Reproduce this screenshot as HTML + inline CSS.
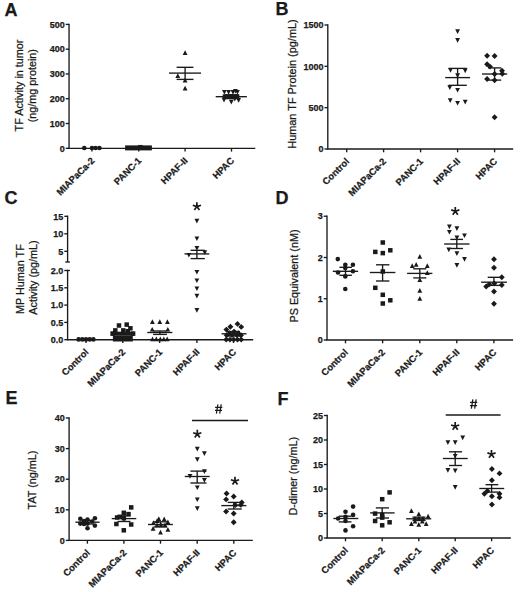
<!DOCTYPE html>
<html><head><meta charset="utf-8"><style>
html,body{margin:0;padding:0;background:#fff;width:520px;height:592px;overflow:hidden}
svg{display:block}
text{font-family:"Liberation Sans",sans-serif;fill:#1a1a1a;stroke:#1a1a1a;stroke-width:0.25px}
line{stroke:#1a1a1a}
</style></head><body>
<svg width="520" height="592" viewBox="0 0 520 592" fill="#1a1a1a">
<text x="4.60" y="15.60" font-size="18" font-weight="bold" text-anchor="start">A</text>
<line x1="69.05" y1="23.65" x2="69.05" y2="148.30" stroke-width="1.35"/>
<line x1="65.75" y1="148.30" x2="69.05" y2="148.30" stroke-width="1.35"/>
<text x="64.75" y="151.50" font-size="9" font-weight="bold" text-anchor="end">0</text>
<line x1="65.75" y1="123.52" x2="69.05" y2="123.52" stroke-width="1.35"/>
<text x="64.75" y="126.72" font-size="9" font-weight="bold" text-anchor="end">100</text>
<line x1="65.75" y1="98.74" x2="69.05" y2="98.74" stroke-width="1.35"/>
<text x="64.75" y="101.94" font-size="9" font-weight="bold" text-anchor="end">200</text>
<line x1="65.75" y1="73.96" x2="69.05" y2="73.96" stroke-width="1.35"/>
<text x="64.75" y="77.16" font-size="9" font-weight="bold" text-anchor="end">300</text>
<line x1="65.75" y1="49.18" x2="69.05" y2="49.18" stroke-width="1.35"/>
<text x="64.75" y="52.38" font-size="9" font-weight="bold" text-anchor="end">400</text>
<line x1="65.75" y1="24.40" x2="69.05" y2="24.40" stroke-width="1.35"/>
<text x="64.75" y="27.60" font-size="9" font-weight="bold" text-anchor="end">500</text>
<line x1="68.30" y1="148.30" x2="255.30" y2="148.30" stroke-width="1.35"/>
<line x1="91.90" y1="148.30" x2="91.90" y2="151.60" stroke-width="1.35"/>
<text x="95.10" y="161.30" font-size="9.4" font-weight="bold" text-anchor="end" transform="rotate(-45 95.10 161.30)">MIAPaCa-2</text>
<line x1="138.70" y1="148.30" x2="138.70" y2="151.60" stroke-width="1.35"/>
<text x="141.90" y="161.30" font-size="9.4" font-weight="bold" text-anchor="end" transform="rotate(-45 141.90 161.30)">PANC-1</text>
<line x1="185.10" y1="148.30" x2="185.10" y2="151.60" stroke-width="1.35"/>
<text x="188.30" y="161.30" font-size="9.4" font-weight="bold" text-anchor="end" transform="rotate(-45 188.30 161.30)">HPAF-II</text>
<line x1="231.50" y1="148.30" x2="231.50" y2="151.60" stroke-width="1.35"/>
<text x="234.70" y="161.30" font-size="9.4" font-weight="bold" text-anchor="end" transform="rotate(-45 234.70 161.30)">HPAC</text>
<text x="22.80" y="85.50" font-size="10.8" font-weight="normal" text-anchor="middle" transform="rotate(-90 22.80 85.50)">TF Activity in tumor</text>
<text x="35.80" y="85.70" font-size="10.8" font-weight="normal" text-anchor="middle" transform="rotate(-90 35.80 85.70)">(ng/mg protein)</text>
<circle cx="84.30" cy="148.00" r="2.30"/>
<circle cx="92.00" cy="148.00" r="2.30"/>
<circle cx="95.60" cy="148.00" r="2.30"/>
<circle cx="99.40" cy="148.00" r="2.30"/>
<rect x="125.1" y="145.4" width="26.8" height="5.0"/>
<rect x="138.15" y="144.95" width="4.50" height="4.50"/>
<path d="M182.70 55.02L187.50 55.02L185.10 50.31Z"/>
<path d="M182.70 90.52L187.50 90.52L185.10 85.82Z"/>
<path d="M175.40 78.02L180.20 78.02L177.80 73.32Z"/>
<path d="M182.70 82.41L187.50 82.41L185.10 77.72Z"/>
<line x1="169.00" y1="73.10" x2="201.00" y2="73.10" stroke-width="1.35"/>
<line x1="176.60" y1="67.30" x2="193.50" y2="67.30" stroke-width="1.35"/>
<line x1="176.60" y1="79.40" x2="193.50" y2="79.40" stroke-width="1.35"/>
<line x1="185.10" y1="67.30" x2="185.10" y2="79.40" stroke-width="1.35"/>
<rect x="222.7" y="94.3" width="16.6" height="4.7"/>
<path d="M222.00 89.89L226.80 89.89L224.40 94.58Z"/>
<path d="M226.20 90.09L231.00 90.09L228.60 94.78Z"/>
<path d="M230.60 90.09L235.40 90.09L233.00 94.78Z"/>
<path d="M235.00 89.89L239.80 89.89L237.40 94.58Z"/>
<path d="M233.00 88.89L237.80 88.89L235.40 93.58Z"/>
<path d="M221.60 97.69L226.40 97.69L224.00 102.38Z"/>
<path d="M228.90 99.69L233.70 99.69L231.30 104.38Z"/>
<path d="M236.20 97.98L241.00 97.98L238.60 102.68Z"/>
<path d="M232.40 96.69L237.20 96.69L234.80 101.38Z"/>
<line x1="215.70" y1="96.70" x2="246.90" y2="96.70" stroke-width="1.35"/>
<line x1="224.50" y1="94.80" x2="238.50" y2="94.80" stroke-width="1.35"/>
<line x1="224.50" y1="98.60" x2="238.50" y2="98.60" stroke-width="1.35"/>
<line x1="231.50" y1="94.80" x2="231.50" y2="98.60" stroke-width="1.35"/>
<text x="275.60" y="14.80" font-size="18" font-weight="bold" text-anchor="start">B</text>
<line x1="327.80" y1="24.26" x2="327.80" y2="149.00" stroke-width="1.35"/>
<line x1="324.50" y1="149.00" x2="327.80" y2="149.00" stroke-width="1.35"/>
<text x="323.50" y="152.20" font-size="9" font-weight="bold" text-anchor="end">0</text>
<line x1="324.50" y1="107.67" x2="327.80" y2="107.67" stroke-width="1.35"/>
<text x="323.50" y="110.87" font-size="9" font-weight="bold" text-anchor="end">500</text>
<line x1="324.50" y1="66.34" x2="327.80" y2="66.34" stroke-width="1.35"/>
<text x="323.50" y="69.54" font-size="9" font-weight="bold" text-anchor="end">1000</text>
<line x1="324.50" y1="25.01" x2="327.80" y2="25.01" stroke-width="1.35"/>
<text x="323.50" y="28.21" font-size="9" font-weight="bold" text-anchor="end">1500</text>
<line x1="327.05" y1="149.00" x2="513.20" y2="149.00" stroke-width="1.35"/>
<line x1="346.70" y1="149.00" x2="346.70" y2="152.30" stroke-width="1.35"/>
<text x="349.90" y="162.00" font-size="9.4" font-weight="bold" text-anchor="end" transform="rotate(-45 349.90 162.00)">Control</text>
<line x1="383.60" y1="149.00" x2="383.60" y2="152.30" stroke-width="1.35"/>
<text x="386.80" y="162.00" font-size="9.4" font-weight="bold" text-anchor="end" transform="rotate(-45 386.80 162.00)">MIAPaCa-2</text>
<line x1="420.60" y1="149.00" x2="420.60" y2="152.30" stroke-width="1.35"/>
<text x="423.80" y="162.00" font-size="9.4" font-weight="bold" text-anchor="end" transform="rotate(-45 423.80 162.00)">PANC-1</text>
<line x1="457.60" y1="149.00" x2="457.60" y2="152.30" stroke-width="1.35"/>
<text x="460.80" y="162.00" font-size="9.4" font-weight="bold" text-anchor="end" transform="rotate(-45 460.80 162.00)">HPAF-II</text>
<line x1="494.60" y1="149.00" x2="494.60" y2="152.30" stroke-width="1.35"/>
<text x="497.80" y="162.00" font-size="9.4" font-weight="bold" text-anchor="end" transform="rotate(-45 497.80 162.00)">HPAC</text>
<text x="295.60" y="84.00" font-size="10.9" font-weight="normal" text-anchor="middle" transform="rotate(-90 295.60 84.00)">Human TF Protein (pg/mL)</text>
<path d="M455.20 29.19L460.00 29.19L457.60 33.88Z"/>
<path d="M455.20 38.09L460.00 38.09L457.60 42.79Z"/>
<path d="M448.10 68.09L452.90 68.09L450.50 72.78Z"/>
<path d="M462.80 68.48L467.60 68.48L465.20 73.18Z"/>
<path d="M455.20 73.29L460.00 73.29L457.60 77.98Z"/>
<path d="M447.40 85.19L452.20 85.19L449.80 89.88Z"/>
<path d="M455.20 87.89L460.00 87.89L457.60 92.58Z"/>
<path d="M447.80 98.19L452.60 98.19L450.20 102.88Z"/>
<path d="M455.20 100.89L460.00 100.89L457.60 105.58Z"/>
<path d="M462.80 99.69L467.60 99.69L465.20 104.38Z"/>
<line x1="445.20" y1="77.60" x2="470.10" y2="77.60" stroke-width="1.35"/>
<line x1="448.50" y1="68.40" x2="466.80" y2="68.40" stroke-width="1.35"/>
<line x1="448.50" y1="85.30" x2="466.80" y2="85.30" stroke-width="1.35"/>
<line x1="457.60" y1="68.40" x2="457.60" y2="85.30" stroke-width="1.35"/>
<path d="M487.10 52.85L490.05 55.80L487.10 58.75L484.15 55.80Z"/>
<path d="M494.60 53.05L497.55 56.00L494.60 58.95L491.65 56.00Z"/>
<path d="M487.10 61.25L490.05 64.20L487.10 67.15L484.15 64.20Z"/>
<path d="M490.00 63.65L492.95 66.60L490.00 69.55L487.05 66.60Z"/>
<path d="M502.00 67.85L504.95 70.80L502.00 73.75L499.05 70.80Z"/>
<path d="M502.30 70.85L505.25 73.80L502.30 76.75L499.35 73.80Z"/>
<path d="M487.10 76.05L490.05 79.00L487.10 81.95L484.15 79.00Z"/>
<path d="M494.60 77.35L497.55 80.30L494.60 83.25L491.65 80.30Z"/>
<path d="M494.60 71.05L497.55 74.00L494.60 76.95L491.65 74.00Z"/>
<path d="M494.60 114.35L497.55 117.30L494.60 120.25L491.65 117.30Z"/>
<line x1="482.00" y1="74.00" x2="507.20" y2="74.00" stroke-width="1.35"/>
<line x1="488.00" y1="67.90" x2="501.20" y2="67.90" stroke-width="1.35"/>
<line x1="488.00" y1="80.10" x2="501.20" y2="80.10" stroke-width="1.35"/>
<line x1="494.60" y1="67.90" x2="494.60" y2="80.10" stroke-width="1.35"/>
<text x="4.60" y="203.90" font-size="18" font-weight="bold" text-anchor="start">C</text>
<line x1="67.60" y1="215.55" x2="67.60" y2="262.00" stroke-width="1.35"/>
<line x1="64.30" y1="216.30" x2="67.60" y2="216.30" stroke-width="1.35"/>
<text x="63.30" y="219.50" font-size="9" font-weight="bold" text-anchor="end">15</text>
<line x1="64.30" y1="233.80" x2="67.60" y2="233.80" stroke-width="1.35"/>
<text x="63.30" y="237.00" font-size="9" font-weight="bold" text-anchor="end">10</text>
<line x1="64.30" y1="251.30" x2="67.60" y2="251.30" stroke-width="1.35"/>
<text x="63.30" y="254.50" font-size="9" font-weight="bold" text-anchor="end">5</text>
<line x1="65.30" y1="262.00" x2="69.90" y2="262.00" stroke-width="1.35"/>
<line x1="67.60" y1="269.75" x2="67.60" y2="339.70" stroke-width="1.35"/>
<line x1="64.30" y1="270.50" x2="67.60" y2="270.50" stroke-width="1.35"/>
<text x="63.30" y="273.70" font-size="9" font-weight="bold" text-anchor="end">2.0</text>
<line x1="64.30" y1="287.80" x2="67.60" y2="287.80" stroke-width="1.35"/>
<text x="63.30" y="291.00" font-size="9" font-weight="bold" text-anchor="end">1.5</text>
<line x1="64.30" y1="305.10" x2="67.60" y2="305.10" stroke-width="1.35"/>
<text x="63.30" y="308.30" font-size="9" font-weight="bold" text-anchor="end">1.0</text>
<line x1="64.30" y1="322.40" x2="67.60" y2="322.40" stroke-width="1.35"/>
<text x="63.30" y="325.60" font-size="9" font-weight="bold" text-anchor="end">0.5</text>
<line x1="64.30" y1="339.70" x2="67.60" y2="339.70" stroke-width="1.35"/>
<text x="63.30" y="342.90" font-size="9" font-weight="bold" text-anchor="end">0.0</text>
<line x1="67.60" y1="270.50" x2="69.90" y2="270.50" stroke-width="1.35"/>
<line x1="66.85" y1="339.70" x2="253.20" y2="339.70" stroke-width="1.35"/>
<line x1="86.00" y1="339.70" x2="86.00" y2="343.00" stroke-width="1.35"/>
<text x="89.20" y="352.70" font-size="9.4" font-weight="bold" text-anchor="end" transform="rotate(-45 89.20 352.70)">Control</text>
<line x1="122.80" y1="339.70" x2="122.80" y2="343.00" stroke-width="1.35"/>
<text x="126.00" y="352.70" font-size="9.4" font-weight="bold" text-anchor="end" transform="rotate(-45 126.00 352.70)">MIAPaCa-2</text>
<line x1="159.70" y1="339.70" x2="159.70" y2="343.00" stroke-width="1.35"/>
<text x="162.90" y="352.70" font-size="9.4" font-weight="bold" text-anchor="end" transform="rotate(-45 162.90 352.70)">PANC-1</text>
<line x1="196.90" y1="339.70" x2="196.90" y2="343.00" stroke-width="1.35"/>
<text x="200.10" y="352.70" font-size="9.4" font-weight="bold" text-anchor="end" transform="rotate(-45 200.10 352.70)">HPAF-II</text>
<line x1="233.50" y1="339.70" x2="233.50" y2="343.00" stroke-width="1.35"/>
<text x="236.70" y="352.70" font-size="9.4" font-weight="bold" text-anchor="end" transform="rotate(-45 236.70 352.70)">HPAC</text>
<text x="23.70" y="279.10" font-size="10.8" font-weight="normal" text-anchor="middle" transform="rotate(-90 23.70 279.10)">MP Human TF</text>
<text x="36.70" y="277.50" font-size="10.8" font-weight="normal" text-anchor="middle" transform="rotate(-90 36.70 277.50)">Activity (pg/mL)</text>
<circle cx="78.60" cy="339.40" r="2.30"/>
<circle cx="82.30" cy="339.40" r="2.30"/>
<circle cx="86.00" cy="339.40" r="2.30"/>
<circle cx="89.70" cy="339.40" r="2.30"/>
<circle cx="93.40" cy="339.40" r="2.30"/>
<rect x="116.75" y="323.25" width="4.50" height="4.50"/>
<rect x="124.45" y="322.35" width="4.50" height="4.50"/>
<rect x="128.15" y="326.05" width="4.50" height="4.50"/>
<rect x="113.05" y="328.15" width="4.50" height="4.50"/>
<rect x="121.05" y="328.15" width="4.50" height="4.50"/>
<rect x="125.55" y="328.95" width="4.50" height="4.50"/>
<rect x="110.35" y="331.35" width="4.50" height="4.50"/>
<rect x="130.85" y="331.35" width="4.50" height="4.50"/>
<rect x="111.2" y="331.7" width="23.3" height="4.1"/>
<rect x="112.9" y="335.9" width="19.9" height="5.6"/>
<path d="M150.00 324.01L154.80 324.01L152.40 319.31Z"/>
<path d="M157.40 324.01L162.20 324.01L159.80 319.31Z"/>
<path d="M165.00 324.01L169.80 324.01L167.40 319.31Z"/>
<path d="M149.80 331.62L154.60 331.62L152.20 326.92Z"/>
<path d="M165.40 331.62L170.20 331.62L167.80 326.92Z"/>
<path d="M150.10 341.31L154.90 341.31L152.50 336.62Z"/>
<path d="M153.90 341.31L158.70 341.31L156.30 336.62Z"/>
<path d="M157.90 341.31L162.70 341.31L160.30 336.62Z"/>
<path d="M161.40 341.31L166.20 341.31L163.80 336.62Z"/>
<path d="M164.80 341.31L169.60 341.31L167.20 336.62Z"/>
<line x1="147.30" y1="332.50" x2="172.40" y2="332.50" stroke-width="1.35"/>
<line x1="153.10" y1="331.00" x2="166.90" y2="331.00" stroke-width="1.35"/>
<line x1="153.10" y1="334.40" x2="166.90" y2="334.40" stroke-width="1.35"/>
<line x1="159.90" y1="331.00" x2="159.90" y2="334.40" stroke-width="1.35"/>
<path d="M194.50 218.69L199.30 218.69L196.90 223.39Z"/>
<path d="M194.50 236.38L199.30 236.38L196.90 241.09Z"/>
<path d="M186.50 252.88L191.30 252.88L188.90 257.58Z"/>
<path d="M202.40 250.19L207.20 250.19L204.80 254.89Z"/>
<path d="M194.50 246.08L199.30 246.08L196.90 250.78Z"/>
<path d="M194.50 269.88L199.30 269.88L196.90 274.58Z"/>
<path d="M194.50 278.38L199.30 278.38L196.90 283.08Z"/>
<path d="M194.50 286.38L199.30 286.38L196.90 291.08Z"/>
<path d="M194.50 293.69L199.30 293.69L196.90 298.38Z"/>
<path d="M194.50 308.08L199.30 308.08L196.90 312.78Z"/>
<line x1="184.50" y1="253.90" x2="209.30" y2="253.90" stroke-width="1.35"/>
<line x1="190.60" y1="250.30" x2="204.80" y2="250.30" stroke-width="1.35"/>
<line x1="190.60" y1="258.60" x2="204.80" y2="258.60" stroke-width="1.35"/>
<line x1="196.90" y1="250.30" x2="196.90" y2="258.60" stroke-width="1.35"/>
<path d="M196.90 206.60L196.90 202.30M196.90 206.60L200.99 205.27M196.90 206.60L199.43 210.08M196.90 206.60L194.37 210.08M196.90 206.60L192.81 205.27" fill="none" stroke="#1a1a1a" stroke-width="1.7"/>
<path d="M226.40 326.65L229.35 329.60L226.40 332.55L223.45 329.60Z"/>
<path d="M230.40 323.85L233.35 326.80L230.40 329.75L227.45 326.80Z"/>
<path d="M237.50 320.95L240.45 323.90L237.50 326.85L234.55 323.90Z"/>
<path d="M241.20 323.95L244.15 326.90L241.20 329.85L238.25 326.90Z"/>
<path d="M234.10 328.65L237.05 331.60L234.10 334.55L231.15 331.60Z"/>
<path d="M229.60 330.25L232.55 333.20L229.60 336.15L226.65 333.20Z"/>
<path d="M238.20 330.25L241.15 333.20L238.20 336.15L235.25 333.20Z"/>
<path d="M226.70 332.25L229.65 335.20L226.70 338.15L223.75 335.20Z"/>
<path d="M232.00 332.05L234.95 335.00L232.00 337.95L229.05 335.00Z"/>
<path d="M236.80 332.05L239.75 335.00L236.80 337.95L233.85 335.00Z"/>
<path d="M241.00 332.35L243.95 335.30L241.00 338.25L238.05 335.30Z"/>
<path d="M226.20 336.65L229.15 339.60L226.20 342.55L223.25 339.60Z"/>
<path d="M230.00 336.65L232.95 339.60L230.00 342.55L227.05 339.60Z"/>
<path d="M233.70 336.65L236.65 339.60L233.70 342.55L230.75 339.60Z"/>
<path d="M237.50 336.65L240.45 339.60L237.50 342.55L234.55 339.60Z"/>
<path d="M241.20 336.65L244.15 339.60L241.20 342.55L238.25 339.60Z"/>
<line x1="221.50" y1="333.80" x2="246.50" y2="333.80" stroke-width="1.35"/>
<line x1="227.00" y1="331.50" x2="240.00" y2="331.50" stroke-width="1.35"/>
<line x1="227.00" y1="336.00" x2="240.00" y2="336.00" stroke-width="1.35"/>
<line x1="233.50" y1="331.50" x2="233.50" y2="336.00" stroke-width="1.35"/>
<text x="275.60" y="203.80" font-size="18" font-weight="bold" text-anchor="start">D</text>
<line x1="327.00" y1="215.50" x2="327.00" y2="340.00" stroke-width="1.35"/>
<line x1="323.70" y1="340.00" x2="327.00" y2="340.00" stroke-width="1.35"/>
<text x="322.70" y="343.20" font-size="9" font-weight="bold" text-anchor="end">0</text>
<line x1="323.70" y1="298.75" x2="327.00" y2="298.75" stroke-width="1.35"/>
<text x="322.70" y="301.95" font-size="9" font-weight="bold" text-anchor="end">1</text>
<line x1="323.70" y1="257.50" x2="327.00" y2="257.50" stroke-width="1.35"/>
<text x="322.70" y="260.70" font-size="9" font-weight="bold" text-anchor="end">2</text>
<line x1="323.70" y1="216.25" x2="327.00" y2="216.25" stroke-width="1.35"/>
<text x="322.70" y="219.45" font-size="9" font-weight="bold" text-anchor="end">3</text>
<line x1="326.25" y1="340.00" x2="513.10" y2="340.00" stroke-width="1.35"/>
<line x1="345.50" y1="340.00" x2="345.50" y2="343.30" stroke-width="1.35"/>
<text x="348.70" y="353.00" font-size="9.4" font-weight="bold" text-anchor="end" transform="rotate(-45 348.70 353.00)">Control</text>
<line x1="382.60" y1="340.00" x2="382.60" y2="343.30" stroke-width="1.35"/>
<text x="385.80" y="353.00" font-size="9.4" font-weight="bold" text-anchor="end" transform="rotate(-45 385.80 353.00)">MIAPaCa-2</text>
<line x1="419.80" y1="340.00" x2="419.80" y2="343.30" stroke-width="1.35"/>
<text x="423.00" y="353.00" font-size="9.4" font-weight="bold" text-anchor="end" transform="rotate(-45 423.00 353.00)">PANC-1</text>
<line x1="456.80" y1="340.00" x2="456.80" y2="343.30" stroke-width="1.35"/>
<text x="460.00" y="353.00" font-size="9.4" font-weight="bold" text-anchor="end" transform="rotate(-45 460.00 353.00)">HPAF-II</text>
<line x1="493.90" y1="340.00" x2="493.90" y2="343.30" stroke-width="1.35"/>
<text x="497.10" y="353.00" font-size="9.4" font-weight="bold" text-anchor="end" transform="rotate(-45 497.10 353.00)">HPAC</text>
<text x="297.70" y="276.00" font-size="10.8" font-weight="normal" text-anchor="middle" transform="rotate(-90 297.70 276.00)">PS Equivalent (nM)</text>
<circle cx="337.80" cy="259.10" r="2.30"/>
<circle cx="345.30" cy="264.80" r="2.30"/>
<circle cx="352.90" cy="264.80" r="2.30"/>
<circle cx="338.00" cy="272.50" r="2.30"/>
<circle cx="352.90" cy="271.30" r="2.30"/>
<circle cx="345.30" cy="276.40" r="2.30"/>
<circle cx="345.30" cy="289.00" r="2.30"/>
<circle cx="345.30" cy="268.00" r="2.30"/>
<line x1="332.80" y1="271.30" x2="358.10" y2="271.30" stroke-width="1.35"/>
<line x1="339.40" y1="267.30" x2="351.90" y2="267.30" stroke-width="1.35"/>
<line x1="339.40" y1="275.30" x2="351.90" y2="275.30" stroke-width="1.35"/>
<line x1="345.50" y1="267.30" x2="345.50" y2="275.30" stroke-width="1.35"/>
<rect x="380.55" y="240.25" width="4.50" height="4.50"/>
<rect x="373.05" y="249.65" width="4.50" height="4.50"/>
<rect x="380.55" y="250.85" width="4.50" height="4.50"/>
<rect x="388.05" y="248.05" width="4.50" height="4.50"/>
<rect x="373.05" y="285.55" width="4.50" height="4.50"/>
<rect x="380.55" y="292.55" width="4.50" height="4.50"/>
<rect x="388.05" y="298.05" width="4.50" height="4.50"/>
<rect x="380.55" y="301.25" width="4.50" height="4.50"/>
<rect x="380.55" y="269.25" width="4.50" height="4.50"/>
<line x1="369.80" y1="272.50" x2="395.40" y2="272.50" stroke-width="1.35"/>
<line x1="376.00" y1="264.80" x2="389.40" y2="264.80" stroke-width="1.35"/>
<line x1="376.00" y1="281.00" x2="389.40" y2="281.00" stroke-width="1.35"/>
<line x1="382.60" y1="264.80" x2="382.60" y2="281.00" stroke-width="1.35"/>
<path d="M417.40 258.72L422.20 258.72L419.80 254.02Z"/>
<path d="M409.80 267.92L414.60 267.92L412.20 263.22Z"/>
<path d="M413.80 266.81L418.60 266.81L416.20 262.12Z"/>
<path d="M424.90 267.92L429.70 267.92L427.30 263.22Z"/>
<path d="M424.90 274.92L429.70 274.92L427.30 270.22Z"/>
<path d="M417.40 282.01L422.20 282.01L419.80 277.31Z"/>
<path d="M417.40 292.72L422.20 292.72L419.80 288.02Z"/>
<path d="M417.40 300.81L422.20 300.81L419.80 296.12Z"/>
<line x1="407.10" y1="273.40" x2="432.40" y2="273.40" stroke-width="1.35"/>
<line x1="413.20" y1="268.80" x2="426.30" y2="268.80" stroke-width="1.35"/>
<line x1="413.20" y1="277.90" x2="426.30" y2="277.90" stroke-width="1.35"/>
<line x1="419.80" y1="268.80" x2="419.80" y2="277.90" stroke-width="1.35"/>
<path d="M447.00 224.48L451.80 224.48L449.40 229.19Z"/>
<path d="M447.00 229.88L451.80 229.88L449.40 234.59Z"/>
<path d="M454.50 226.28L459.30 226.28L456.90 230.99Z"/>
<path d="M462.10 233.38L466.90 233.38L464.50 238.09Z"/>
<path d="M454.50 235.48L459.30 235.48L456.90 240.19Z"/>
<path d="M446.40 247.58L451.20 247.58L448.80 252.28Z"/>
<path d="M454.50 251.19L459.30 251.19L456.90 255.89Z"/>
<path d="M462.10 257.08L466.90 257.08L464.50 261.78Z"/>
<path d="M454.50 262.99L459.30 262.99L456.90 267.69Z"/>
<line x1="444.10" y1="244.00" x2="469.50" y2="244.00" stroke-width="1.35"/>
<line x1="450.30" y1="239.40" x2="463.00" y2="239.40" stroke-width="1.35"/>
<line x1="450.30" y1="248.50" x2="463.00" y2="248.50" stroke-width="1.35"/>
<line x1="456.80" y1="239.40" x2="456.80" y2="248.50" stroke-width="1.35"/>
<path d="M455.30 211.20L455.30 206.90M455.30 211.20L459.39 209.87M455.30 211.20L457.83 214.68M455.30 211.20L452.77 214.68M455.30 211.20L451.21 209.87" fill="none" stroke="#1a1a1a" stroke-width="1.7"/>
<path d="M494.00 256.35L496.95 259.30L494.00 262.25L491.05 259.30Z"/>
<path d="M494.00 264.75L496.95 267.70L494.00 270.65L491.05 267.70Z"/>
<path d="M501.80 274.35L504.75 277.30L501.80 280.25L498.85 277.30Z"/>
<path d="M486.20 283.55L489.15 286.50L486.20 289.45L483.25 286.50Z"/>
<path d="M489.20 281.45L492.15 284.40L489.20 287.35L486.25 284.40Z"/>
<path d="M494.30 280.45L497.25 283.40L494.30 286.35L491.35 283.40Z"/>
<path d="M501.80 282.05L504.75 285.00L501.80 287.95L498.85 285.00Z"/>
<path d="M494.00 288.55L496.95 291.50L494.00 294.45L491.05 291.50Z"/>
<path d="M494.00 300.75L496.95 303.70L494.00 306.65L491.05 303.70Z"/>
<line x1="481.10" y1="282.20" x2="506.90" y2="282.20" stroke-width="1.35"/>
<line x1="487.70" y1="277.30" x2="502.40" y2="277.30" stroke-width="1.35"/>
<line x1="487.70" y1="285.40" x2="502.40" y2="285.40" stroke-width="1.35"/>
<line x1="493.90" y1="277.30" x2="493.90" y2="285.40" stroke-width="1.35"/>
<text x="5.60" y="403.80" font-size="18" font-weight="bold" text-anchor="start">E</text>
<line x1="69.10" y1="417.25" x2="69.10" y2="540.40" stroke-width="1.35"/>
<line x1="65.80" y1="540.40" x2="69.10" y2="540.40" stroke-width="1.35"/>
<text x="64.80" y="543.60" font-size="9" font-weight="bold" text-anchor="end">0</text>
<line x1="65.80" y1="509.80" x2="69.10" y2="509.80" stroke-width="1.35"/>
<text x="64.80" y="513.00" font-size="9" font-weight="bold" text-anchor="end">10</text>
<line x1="65.80" y1="479.20" x2="69.10" y2="479.20" stroke-width="1.35"/>
<text x="64.80" y="482.40" font-size="9" font-weight="bold" text-anchor="end">20</text>
<line x1="65.80" y1="448.60" x2="69.10" y2="448.60" stroke-width="1.35"/>
<text x="64.80" y="451.80" font-size="9" font-weight="bold" text-anchor="end">30</text>
<line x1="65.80" y1="418.00" x2="69.10" y2="418.00" stroke-width="1.35"/>
<text x="64.80" y="421.20" font-size="9" font-weight="bold" text-anchor="end">40</text>
<line x1="68.35" y1="540.40" x2="252.80" y2="540.40" stroke-width="1.35"/>
<line x1="87.40" y1="540.40" x2="87.40" y2="543.70" stroke-width="1.35"/>
<text x="90.60" y="553.40" font-size="9.4" font-weight="bold" text-anchor="end" transform="rotate(-45 90.60 553.40)">Control</text>
<line x1="123.90" y1="540.40" x2="123.90" y2="543.70" stroke-width="1.35"/>
<text x="127.10" y="553.40" font-size="9.4" font-weight="bold" text-anchor="end" transform="rotate(-45 127.10 553.40)">MIAPaCa-2</text>
<line x1="160.50" y1="540.40" x2="160.50" y2="543.70" stroke-width="1.35"/>
<text x="163.70" y="553.40" font-size="9.4" font-weight="bold" text-anchor="end" transform="rotate(-45 163.70 553.40)">PANC-1</text>
<line x1="197.20" y1="540.40" x2="197.20" y2="543.70" stroke-width="1.35"/>
<text x="200.40" y="553.40" font-size="9.4" font-weight="bold" text-anchor="end" transform="rotate(-45 200.40 553.40)">HPAF-II</text>
<line x1="233.80" y1="540.40" x2="233.80" y2="543.70" stroke-width="1.35"/>
<text x="237.00" y="553.40" font-size="9.4" font-weight="bold" text-anchor="end" transform="rotate(-45 237.00 553.40)">HPAC</text>
<text x="36.20" y="480.00" font-size="10.8" font-weight="normal" text-anchor="middle" transform="rotate(-90 36.20 480.00)">TAT (ng/mL)</text>
<circle cx="80.30" cy="518.80" r="2.30"/>
<circle cx="87.50" cy="519.50" r="2.30"/>
<circle cx="94.90" cy="518.20" r="2.30"/>
<circle cx="80.30" cy="523.60" r="2.30"/>
<circle cx="94.90" cy="525.60" r="2.30"/>
<circle cx="87.50" cy="528.30" r="2.30"/>
<circle cx="92.20" cy="521.50" r="2.30"/>
<circle cx="84.00" cy="521.00" r="2.30"/>
<circle cx="87.50" cy="523.60" r="2.30"/>
<circle cx="84.00" cy="524.00" r="2.30"/>
<line x1="75.40" y1="522.20" x2="99.60" y2="522.20" stroke-width="1.35"/>
<line x1="81.50" y1="520.50" x2="93.50" y2="520.50" stroke-width="1.35"/>
<line x1="81.50" y1="524.00" x2="93.50" y2="524.00" stroke-width="1.35"/>
<line x1="87.40" y1="520.50" x2="87.40" y2="524.00" stroke-width="1.35"/>
<rect x="128.95" y="505.15" width="4.50" height="4.50"/>
<rect x="121.55" y="510.55" width="4.50" height="4.50"/>
<rect x="126.25" y="511.85" width="4.50" height="4.50"/>
<rect x="114.85" y="515.25" width="4.50" height="4.50"/>
<rect x="114.15" y="521.75" width="4.50" height="4.50"/>
<rect x="128.95" y="522.25" width="4.50" height="4.50"/>
<rect x="121.55" y="528.05" width="4.50" height="4.50"/>
<rect x="121.55" y="515.95" width="4.50" height="4.50"/>
<rect x="117.55" y="514.55" width="4.50" height="4.50"/>
<line x1="111.70" y1="518.60" x2="136.30" y2="518.60" stroke-width="1.35"/>
<line x1="117.50" y1="515.80" x2="130.50" y2="515.80" stroke-width="1.35"/>
<line x1="117.50" y1="521.50" x2="130.50" y2="521.50" stroke-width="1.35"/>
<line x1="123.90" y1="515.80" x2="123.90" y2="521.50" stroke-width="1.35"/>
<path d="M156.40 520.91L161.20 520.91L158.80 516.21Z"/>
<path d="M161.80 521.22L166.60 521.22L164.20 516.51Z"/>
<path d="M151.00 524.91L155.80 524.91L153.40 520.21Z"/>
<path d="M165.50 524.32L170.30 524.32L167.90 519.62Z"/>
<path d="M154.70 522.91L159.50 522.91L157.10 518.21Z"/>
<path d="M150.70 530.72L155.50 530.72L153.10 526.01Z"/>
<path d="M165.50 531.72L170.30 531.72L167.90 527.01Z"/>
<path d="M158.10 534.41L162.90 534.41L160.50 529.71Z"/>
<path d="M154.60 527.12L159.40 527.12L157.00 522.41Z"/>
<path d="M158.60 527.12L163.40 527.12L161.00 522.41Z"/>
<path d="M162.60 527.12L167.40 527.12L165.00 522.41Z"/>
<line x1="148.00" y1="524.50" x2="172.90" y2="524.50" stroke-width="1.35"/>
<line x1="154.00" y1="521.80" x2="167.00" y2="521.80" stroke-width="1.35"/>
<line x1="154.00" y1="527.00" x2="167.00" y2="527.00" stroke-width="1.35"/>
<line x1="160.50" y1="521.80" x2="160.50" y2="527.00" stroke-width="1.35"/>
<path d="M194.90 446.78L199.70 446.78L197.30 451.48Z"/>
<path d="M202.00 451.19L206.80 451.19L204.40 455.88Z"/>
<path d="M194.90 457.28L199.70 457.28L197.30 461.98Z"/>
<path d="M187.60 474.08L192.40 474.08L190.00 478.78Z"/>
<path d="M202.00 469.28L206.80 469.28L204.40 473.98Z"/>
<path d="M202.00 478.08L206.80 478.08L204.40 482.78Z"/>
<path d="M194.90 485.38L199.70 485.38L197.30 490.08Z"/>
<path d="M194.90 497.38L199.70 497.38L197.30 502.08Z"/>
<path d="M194.90 506.28L199.70 506.28L197.30 510.98Z"/>
<line x1="184.80" y1="476.50" x2="209.70" y2="476.50" stroke-width="1.35"/>
<line x1="190.40" y1="471.10" x2="206.50" y2="471.10" stroke-width="1.35"/>
<line x1="190.40" y1="483.00" x2="206.50" y2="483.00" stroke-width="1.35"/>
<line x1="197.20" y1="471.10" x2="197.20" y2="483.00" stroke-width="1.35"/>
<path d="M197.30 434.10L197.30 429.80M197.30 434.10L201.39 432.77M197.30 434.10L199.83 437.58M197.30 434.10L194.77 437.58M197.30 434.10L193.21 432.77" fill="none" stroke="#1a1a1a" stroke-width="1.7"/>
<path d="M226.60 490.55L229.55 493.50L226.60 496.45L223.65 493.50Z"/>
<path d="M233.70 493.55L236.65 496.50L233.70 499.45L230.75 496.50Z"/>
<path d="M226.10 496.45L229.05 499.40L226.10 502.35L223.15 499.40Z"/>
<path d="M241.80 499.45L244.75 502.40L241.80 505.35L238.85 502.40Z"/>
<path d="M226.10 508.55L229.05 511.50L226.10 514.45L223.15 511.50Z"/>
<path d="M233.70 510.55L236.65 513.50L233.70 516.45L230.75 513.50Z"/>
<path d="M233.70 519.25L236.65 522.20L233.70 525.15L230.75 522.20Z"/>
<path d="M240.80 501.95L243.75 504.90L240.80 507.85L237.85 504.90Z"/>
<path d="M235.30 502.05L238.25 505.00L235.30 507.95L232.35 505.00Z"/>
<line x1="221.30" y1="505.60" x2="246.40" y2="505.60" stroke-width="1.35"/>
<line x1="227.70" y1="502.40" x2="241.80" y2="502.40" stroke-width="1.35"/>
<line x1="227.70" y1="509.00" x2="241.80" y2="509.00" stroke-width="1.35"/>
<line x1="233.80" y1="502.40" x2="233.80" y2="509.00" stroke-width="1.35"/>
<path d="M235.00 481.10L235.00 476.80M235.00 481.10L239.09 479.77M235.00 481.10L237.53 484.58M235.00 481.10L232.47 484.58M235.00 481.10L230.91 479.77" fill="none" stroke="#1a1a1a" stroke-width="1.7"/>
<line x1="192.00" y1="420.60" x2="248.00" y2="420.60" stroke-width="1.5"/>
<path d="M217.90 404.30L216.40 413.60M221.20 404.30L219.70 413.60M215.10 407.30L222.30 407.30M215.00 410.40L222.10 410.40" fill="none" stroke="#1a1a1a" stroke-width="1.25"/>
<text x="277.60" y="405.00" font-size="18" font-weight="bold" text-anchor="start">F</text>
<line x1="327.20" y1="414.75" x2="327.20" y2="538.00" stroke-width="1.35"/>
<line x1="323.90" y1="538.00" x2="327.20" y2="538.00" stroke-width="1.35"/>
<text x="322.90" y="541.20" font-size="9" font-weight="bold" text-anchor="end">0</text>
<line x1="323.90" y1="513.50" x2="327.20" y2="513.50" stroke-width="1.35"/>
<text x="322.90" y="516.70" font-size="9" font-weight="bold" text-anchor="end">5</text>
<line x1="323.90" y1="489.00" x2="327.20" y2="489.00" stroke-width="1.35"/>
<text x="322.90" y="492.20" font-size="9" font-weight="bold" text-anchor="end">10</text>
<line x1="323.90" y1="464.50" x2="327.20" y2="464.50" stroke-width="1.35"/>
<text x="322.90" y="467.70" font-size="9" font-weight="bold" text-anchor="end">15</text>
<line x1="323.90" y1="440.00" x2="327.20" y2="440.00" stroke-width="1.35"/>
<text x="322.90" y="443.20" font-size="9" font-weight="bold" text-anchor="end">20</text>
<line x1="323.90" y1="415.50" x2="327.20" y2="415.50" stroke-width="1.35"/>
<text x="322.90" y="418.70" font-size="9" font-weight="bold" text-anchor="end">25</text>
<line x1="326.45" y1="538.00" x2="510.80" y2="538.00" stroke-width="1.35"/>
<line x1="345.50" y1="538.00" x2="345.50" y2="541.30" stroke-width="1.35"/>
<text x="348.70" y="551.00" font-size="9.4" font-weight="bold" text-anchor="end" transform="rotate(-45 348.70 551.00)">Control</text>
<line x1="382.20" y1="538.00" x2="382.20" y2="541.30" stroke-width="1.35"/>
<text x="385.40" y="551.00" font-size="9.4" font-weight="bold" text-anchor="end" transform="rotate(-45 385.40 551.00)">MIAPaCa-2</text>
<line x1="418.80" y1="538.00" x2="418.80" y2="541.30" stroke-width="1.35"/>
<text x="422.00" y="551.00" font-size="9.4" font-weight="bold" text-anchor="end" transform="rotate(-45 422.00 551.00)">PANC-1</text>
<line x1="455.20" y1="538.00" x2="455.20" y2="541.30" stroke-width="1.35"/>
<text x="458.40" y="551.00" font-size="9.4" font-weight="bold" text-anchor="end" transform="rotate(-45 458.40 551.00)">HPAF-II</text>
<line x1="491.60" y1="538.00" x2="491.60" y2="541.30" stroke-width="1.35"/>
<text x="494.80" y="551.00" font-size="9.4" font-weight="bold" text-anchor="end" transform="rotate(-45 494.80 551.00)">HPAC</text>
<text x="297.40" y="476.30" font-size="10.8" font-weight="normal" text-anchor="middle" transform="rotate(-90 297.40 476.30)">D-dimer (ng/mL)</text>
<circle cx="353.10" cy="506.60" r="2.30"/>
<circle cx="345.50" cy="511.80" r="2.30"/>
<circle cx="353.10" cy="514.90" r="2.30"/>
<circle cx="338.10" cy="518.50" r="2.30"/>
<circle cx="345.50" cy="516.90" r="2.30"/>
<circle cx="345.50" cy="521.00" r="2.30"/>
<circle cx="353.10" cy="526.30" r="2.30"/>
<circle cx="345.50" cy="530.40" r="2.30"/>
<line x1="333.40" y1="518.50" x2="358.30" y2="518.50" stroke-width="1.35"/>
<line x1="338.70" y1="516.20" x2="351.50" y2="516.20" stroke-width="1.35"/>
<line x1="338.70" y1="521.90" x2="351.50" y2="521.90" stroke-width="1.35"/>
<line x1="345.50" y1="516.20" x2="345.50" y2="521.90" stroke-width="1.35"/>
<rect x="387.35" y="490.15" width="4.50" height="4.50"/>
<rect x="379.95" y="496.95" width="4.50" height="4.50"/>
<rect x="372.85" y="511.35" width="4.50" height="4.50"/>
<rect x="379.95" y="512.65" width="4.50" height="4.50"/>
<rect x="372.85" y="518.75" width="4.50" height="4.50"/>
<rect x="379.95" y="515.35" width="4.50" height="4.50"/>
<rect x="387.35" y="520.05" width="4.50" height="4.50"/>
<rect x="379.95" y="523.05" width="4.50" height="4.50"/>
<line x1="370.10" y1="512.90" x2="394.60" y2="512.90" stroke-width="1.35"/>
<line x1="375.80" y1="507.90" x2="389.00" y2="507.90" stroke-width="1.35"/>
<line x1="375.80" y1="518.00" x2="389.00" y2="518.00" stroke-width="1.35"/>
<line x1="382.20" y1="507.90" x2="382.20" y2="518.00" stroke-width="1.35"/>
<path d="M409.00 512.91L413.80 512.91L411.40 508.22Z"/>
<path d="M416.40 516.32L421.20 516.32L418.80 511.62Z"/>
<path d="M425.70 518.41L430.50 518.41L428.10 513.71Z"/>
<path d="M409.00 525.91L413.80 525.91L411.40 521.21Z"/>
<path d="M416.40 526.72L421.20 526.72L418.80 522.01Z"/>
<path d="M423.80 525.91L428.60 525.91L426.20 521.21Z"/>
<path d="M412.60 523.62L417.40 523.62L415.00 518.91Z"/>
<path d="M419.90 523.62L424.70 523.62L422.30 518.91Z"/>
<path d="M412.60 520.62L417.40 520.62L415.00 515.91Z"/>
<path d="M416.60 520.62L421.40 520.62L419.00 515.91Z"/>
<path d="M420.60 520.62L425.40 520.62L423.00 515.91Z"/>
<line x1="406.20" y1="518.80" x2="431.20" y2="518.80" stroke-width="1.35"/>
<line x1="412.50" y1="517.20" x2="425.50" y2="517.20" stroke-width="1.35"/>
<line x1="412.50" y1="520.50" x2="425.50" y2="520.50" stroke-width="1.35"/>
<line x1="418.80" y1="517.20" x2="418.80" y2="520.50" stroke-width="1.35"/>
<path d="M445.50 440.19L450.30 440.19L447.90 444.88Z"/>
<path d="M452.80 440.19L457.60 440.19L455.20 444.88Z"/>
<path d="M460.30 435.58L465.10 435.58L462.70 440.28Z"/>
<path d="M445.50 467.99L450.30 467.99L447.90 472.69Z"/>
<path d="M452.80 468.58L457.60 468.58L455.20 473.28Z"/>
<path d="M452.80 484.99L457.60 484.99L455.20 489.69Z"/>
<path d="M452.80 453.88L457.60 453.88L455.20 458.58Z"/>
<line x1="442.90" y1="458.50" x2="467.70" y2="458.50" stroke-width="1.35"/>
<line x1="449.00" y1="451.80" x2="462.10" y2="451.80" stroke-width="1.35"/>
<line x1="449.00" y1="465.50" x2="462.10" y2="465.50" stroke-width="1.35"/>
<line x1="455.20" y1="451.80" x2="455.20" y2="465.50" stroke-width="1.35"/>
<path d="M455.20 426.30L455.20 422.00M455.20 426.30L459.29 424.97M455.20 426.30L457.73 429.78M455.20 426.30L452.67 429.78M455.20 426.30L451.11 424.97" fill="none" stroke="#1a1a1a" stroke-width="1.7"/>
<path d="M491.90 466.05L494.85 469.00L491.90 471.95L488.95 469.00Z"/>
<path d="M499.50 470.45L502.45 473.40L499.50 476.35L496.55 473.40Z"/>
<path d="M491.90 477.25L494.85 480.20L491.90 483.15L488.95 480.20Z"/>
<path d="M484.40 490.85L487.35 493.80L484.40 496.75L481.45 493.80Z"/>
<path d="M487.40 487.95L490.35 490.90L487.40 493.85L484.45 490.90Z"/>
<path d="M499.50 490.85L502.45 493.80L499.50 496.75L496.55 493.80Z"/>
<path d="M491.90 493.25L494.85 496.20L491.90 499.15L488.95 496.20Z"/>
<path d="M499.50 494.45L502.45 497.40L499.50 500.35L496.55 497.40Z"/>
<path d="M491.90 501.55L494.85 504.50L491.90 507.45L488.95 504.50Z"/>
<line x1="479.30" y1="488.50" x2="504.20" y2="488.50" stroke-width="1.35"/>
<line x1="485.60" y1="484.70" x2="498.30" y2="484.70" stroke-width="1.35"/>
<line x1="485.60" y1="492.10" x2="498.30" y2="492.10" stroke-width="1.35"/>
<line x1="491.60" y1="484.70" x2="491.60" y2="492.10" stroke-width="1.35"/>
<path d="M491.50 454.20L491.50 449.90M491.50 454.20L495.59 452.87M491.50 454.20L494.03 457.68M491.50 454.20L488.97 457.68M491.50 454.20L487.41 452.87" fill="none" stroke="#1a1a1a" stroke-width="1.7"/>
<line x1="445.70" y1="414.90" x2="500.60" y2="414.90" stroke-width="1.5"/>
<path d="M472.85 399.40L471.35 408.70M476.15 399.40L474.65 408.70M470.05 402.40L477.25 402.40M469.95 405.50L477.05 405.50" fill="none" stroke="#1a1a1a" stroke-width="1.25"/>
</svg>
</body></html>
